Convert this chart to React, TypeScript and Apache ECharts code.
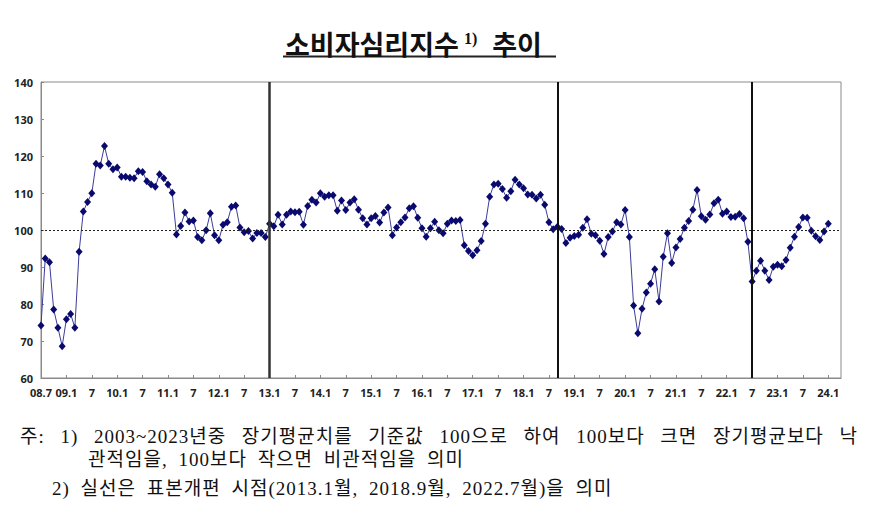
import { useEffect, useRef } from 'react';
import * as echarts from 'echarts';

// 소비자심리지수, 2008.7 ~ 2024.1 (monthly)
const v2008 = [74.2, 92.3, 91.3, 78.5, 73.6, 68.6];
const v2009 = [75.9, 77.3, 73.6, 94.1, 105.0, 107.6, 109.9, 117.9, 117.4, 122.7, 117.9, 116.4];
const v2010 = [116.9, 114.4, 114.4, 114.1, 114.0, 115.9, 115.7, 113.2, 112.3, 111.7, 115.1, 114.0];
const v2011 = [112.3, 110.1, 98.8, 101.1, 104.7, 102.3, 102.6, 98.1, 97.2, 99.9, 104.5, 98.6];
const v2012 = [97.2, 101.4, 102.1, 106.3, 106.6, 100.7, 99.4, 99.7, 97.7, 99.2, 99.2, 98.1];
const v2013 = [101.7, 101.0, 104.1, 101.5, 104.1, 105.0, 104.8, 104.9, 101.4, 106.5, 108.2, 107.4];
const v2014 = [109.9, 109.0, 109.4, 109.4, 105.2, 108.0, 105.4, 107.4, 108.3, 105.5, 103.2, 101.5];
const v2015 = [103.2, 103.8, 102.0, 104.7, 106.1, 98.6, 100.7, 102.1, 103.4, 105.9, 106.4, 103.3];
const v2016 = [100.5, 98.2, 100.5, 102.2, 99.9, 99.1, 101.7, 102.6, 102.4, 102.7, 95.9, 94.3];
const v2017 = [93.2, 94.5, 97.0, 101.7, 109.0, 112.3, 112.5, 111.1, 108.7, 110.5, 113.6, 112.3];
const v2018 = [111.3, 109.6, 109.5, 108.5, 109.5, 106.8, 102.1, 100.2, 100.9, 100.3, 96.5, 97.9];
const v2019 = [98.4, 98.7, 100.6, 102.9, 99.0, 98.6, 97.1, 93.5, 98.1, 99.6, 102.1, 101.5];
const v2020 = [105.4, 98.1, 79.6, 72.1, 78.7, 83.1, 85.5, 89.4, 80.7, 92.8, 99.1, 91.1];
const v2021 = [95.3, 97.6, 100.6, 102.4, 105.5, 110.8, 103.7, 102.8, 104.2, 107.2, 108.2, 104.4];
const v2022 = [105.0, 103.5, 103.6, 104.3, 103.2, 96.8, 86.1, 89.0, 91.7, 89.0, 86.5, 90.1];
const v2023 = [90.6, 90.2, 91.9, 95.2, 98.2, 100.8, 103.4, 103.3, 99.8, 98.3, 97.3, 99.6];
const v2024 = [101.7];

// sample revision points (solid vertical lines)
const revisions = ['13.1', '18.9', '22.7'];

const notes = [
  '주: 1) 2003~2023년중 장기평균치를 기준값 100으로 하여 100보다 크면 장기평균보다 낙',
  '관적임을, 100보다 작으면 비관적임을 의미',
  '2) 실선은 표본개편 시점(2013.1월, 2018.9월, 2022.7월)을 의미',
];

// axis runs 2008.7 .. 2024.4
const categories: string[] = [];
for (let y = 2008, m = 7; ; m++) {
  if (m > 12) { m = 1; y++; }
  if (y === 2024 && m > 4) break;
  categories.push(`${String(y % 100).padStart(2, '0')}.${m}`);
}

const values = [
  ...v2008, ...v2009, ...v2010, ...v2011, ...v2012, ...v2013, ...v2014, ...v2015,
  ...v2016, ...v2017, ...v2018, ...v2019, ...v2020, ...v2021, ...v2022, ...v2023, ...v2024,
];

const isHalfYear = (_i: number, v: string) => {
  const m = v.split('.')[1];
  return m === '1' || m === '7';
};

const noteFont = "'Liberation Serif', 'Noto Sans CJK KR', serif";

const App = () => {
  const chartRef = useRef<HTMLDivElement>(null);

  useEffect(() => {
    if (!chartRef.current) return;
    const chart = echarts.init(chartRef.current, null, { renderer: 'svg' });

    chart.setOption({
      animation: false,
      backgroundColor: '#fff',
      title: {
        text: '{t|소비자심리지수}{s|1)}{t|추이}',
        left: 280,
        top: 25,
        textStyle: {
          rich: {
            t: { fontSize: 27, fontWeight: 'bold', fontFamily: 'Noto Sans CJK KR', color: '#111' },
            s: { fontSize: 16, fontFamily: 'Liberation Serif', color: '#111', verticalAlign: 'top', padding: [0, 15, 0, 5] },
          },
        },
      },
      grid: {
        left: 41,
        right: 28,
        top: 82,
        bottom: 130,
        show: true,
        borderColor: '#8a8a8a',
        borderWidth: 1,
      },
      xAxis: {
        type: 'category',
        data: categories,
        boundaryGap: false,
        axisLine: { lineStyle: { color: '#8a8a8a', width: 1 } },
        axisTick: { inside: true, length: 3, interval: isHalfYear, lineStyle: { color: '#8a8a8a' } },
        axisLabel: {
          interval: isHalfYear,
          margin: 9,
          fontSize: 11,
          fontWeight: 'bold',
          fontFamily: 'Noto Sans',
          color: '#222',
          formatter: (v: string, i: number) => (i > 0 && v.endsWith('.7') ? '7' : v),
        },
        splitLine: { show: false },
      },
      yAxis: {
        type: 'value',
        min: 60,
        max: 140,
        interval: 10,
        axisLine: { show: true, lineStyle: { color: '#8a8a8a', width: 1 } },
        axisTick: { show: true, inside: true, length: 3, lineStyle: { color: '#8a8a8a' } },
        axisLabel: { margin: 8, fontSize: 11, fontWeight: 'bold', fontFamily: 'Noto Sans', color: '#222' },
        splitLine: { show: false },
      },
      series: [
        {
          type: 'line',
          data: values,
          symbol: 'diamond',
          symbolSize: [7, 8],
          showSymbol: true,
          showAllSymbol: true,
          lineStyle: { color: '#3c3c9a', width: 1 },
          itemStyle: { color: '#0a0a6e' },
          markLine: {
            silent: true,
            symbol: 'none',
            label: { show: false },
            data: [
              { yAxis: 100, lineStyle: { color: '#222', type: [2, 2], width: 1 } },
              ...revisions.map((r, i) => ({
                xAxis: r,
                lineStyle: { color: i === 0 ? '#333' : '#111', type: 'solid', width: i === 0 ? 2.5 : 2 },
              })),
            ],
          },
        },
      ],
      graphic: [
        { type: 'line', shape: { x1: 283, y1: 56.5, x2: 556, y2: 56.5 }, style: { stroke: '#222', lineWidth: 2 } },
      ],
    });

    return () => chart.dispose();
  }, []);

  const noteStyle = {
    position: 'absolute' as const,
    fontFamily: noteFont,
    fontSize: 19,
    lineHeight: '24px',
    color: '#111',
    whiteSpace: 'nowrap' as const,
  };

  return (
    <div style={{ position: 'fixed', left: 0, top: 0, width: 869, height: 508, background: '#fff' }}>
      <div ref={chartRef} style={{ position: 'absolute', left: 0, top: 0, width: 869, height: 508 }} />
      <div
        style={{
          ...noteStyle,
          left: 20,
          top: 425,
          width: 838,
          whiteSpace: 'normal',
          textAlign: 'justify',
          textAlignLast: 'justify',
          letterSpacing: 1,
        }}
      >
        {notes[0]}
      </div>
      <div style={{ ...noteStyle, left: 88, top: 448, letterSpacing: 1, wordSpacing: 5 }}>{notes[1]}</div>
      <div style={{ ...noteStyle, left: 52, top: 477, letterSpacing: 1, wordSpacing: 5 }}>{notes[2]}</div>
    </div>
  );
};

export default App;
